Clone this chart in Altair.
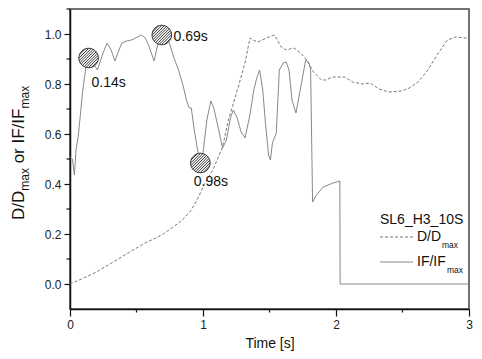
import altair as alt
import pandas as pd
import numpy as np

# ---- data ----
if_t = [0.0, 0.018, 0.033, 0.046, 0.062, 0.096, 0.125, 0.14, 0.169, 0.206, 0.243, 0.279, 0.309, 0.338,
        0.368, 0.39, 0.426, 0.463, 0.507, 0.537, 0.566, 0.596, 0.632, 0.654, 0.676, 0.691, 0.721, 0.75,
        0.779, 0.816, 0.853, 0.875, 0.897, 0.912, 0.934, 0.963, 0.978, 1.0, 1.029, 1.059, 1.081, 1.11,
        1.147, 1.176, 1.206, 1.228, 1.257, 1.287, 1.316, 1.353, 1.382, 1.404, 1.426, 1.449, 1.471, 1.493,
        1.507, 1.522, 1.551, 1.574, 1.603, 1.625, 1.647, 1.669, 1.699, 1.735, 1.772, 1.794, 1.809, 1.824,
        1.853, 1.904, 1.978, 2.029, 2.031, 3.0]
if_v = [0.508, 0.500, 0.436, 0.540, 0.590, 0.776, 0.888, 0.904, 0.888, 0.856, 0.916, 0.964, 0.936, 0.892,
        0.936, 0.964, 0.972, 0.976, 0.988, 0.996, 0.984, 0.948, 0.892, 0.944, 0.988, 0.996, 0.984, 0.96,
        0.908, 0.856, 0.788, 0.736, 0.704, 0.704, 0.616, 0.524, 0.484, 0.524, 0.656, 0.732, 0.704, 0.636,
        0.544, 0.576, 0.664, 0.696, 0.664, 0.608, 0.584, 0.676, 0.776, 0.824, 0.856, 0.776, 0.636, 0.516,
        0.496, 0.564, 0.604, 0.856, 0.884, 0.888, 0.856, 0.736, 0.684, 0.788, 0.896, 0.888, 0.86, 0.328,
        0.356, 0.388, 0.404, 0.412, 0.0, 0.0]

d_t = [0.0, 0.103, 0.199, 0.324, 0.449, 0.566, 0.691, 0.816, 0.860, 0.912, 0.963, 1.007, 1.074, 1.147,
       1.191, 1.265, 1.316, 1.353, 1.375, 1.412, 1.478, 1.537, 1.588, 1.625, 1.684, 1.735, 1.779, 1.831,
       1.89, 1.919, 1.978, 2.066, 2.125, 2.199, 2.257, 2.324, 2.397, 2.493, 2.551, 2.618, 2.691, 2.75,
       2.801, 2.838, 2.897, 2.971, 3.0]
d_v = [0.0, 0.024, 0.048, 0.088, 0.128, 0.164, 0.196, 0.244, 0.264, 0.296, 0.344, 0.396, 0.456, 0.548,
       0.656, 0.788, 0.884, 0.984, 0.976, 0.968, 0.984, 0.996, 0.948, 0.936, 0.944, 0.924, 0.896, 0.848,
       0.816, 0.816, 0.828, 0.828, 0.808, 0.8, 0.804, 0.78, 0.768, 0.772, 0.784, 0.808, 0.856, 0.908,
       0.948, 0.976, 0.988, 0.984, 0.984]

mark_t = [0.14, 0.69, 0.98]
mark_v = [0.904, 0.996, 0.484]
label_text = ["0.14s", "0.69s", "0.98s"]
label_t = [0.162, 0.779, 1.059]
label_v = [0.804, 0.988, 0.408]
label_align = ["left", "left", "center"]

x_major = [0, 1, 2, 3]
x_minor = [0.5, 1.5, 2.5]
y_major = [0.0, 0.2, 0.4, 0.6, 0.8, 1.0]
y_minor = [0.1, 0.3, 0.5, 0.7, 0.9, 1.1]

FONT = "Liberation Sans"
INK = "#111"

df_if = pd.DataFrame({"t": if_t, "v": if_v})
df_d = pd.DataFrame({"t": d_t, "v": d_v})
df_m = pd.DataFrame({"t": mark_t, "v": mark_v})
df_l = pd.DataFrame({"t": label_t, "v": label_v, "txt": label_text, "al": label_align})
df_xm = pd.DataFrame({"t": x_minor})
df_ym = pd.DataFrame({"v": y_minor})

xs = alt.Scale(domain=[0, 3], nice=False, zero=False)
ys = alt.Scale(domain=[-0.1, 1.1], nice=False, zero=False)

x_axis = alt.Axis(values=x_major, title="Time [s]", titleFontSize=14, titleFont=FONT,
                  titleFontWeight="normal", titleColor=INK, titlePadding=6,
                  format="d", labelFontSize=12, labelFont=FONT, labelColor="#222", labelPadding=3,
                  tickSize=7, tickColor=INK, tickWidth=1.2, domainColor=INK, domainWidth=1.5,
                  grid=False, labelFlush=False)
y_axis = alt.Axis(values=y_major, title=None, format=".1f",
                  labelFontSize=12, labelFont=FONT, labelColor="#222", labelPadding=3,
                  tickSize=6, tickColor=INK, tickWidth=1.2, domainColor=INK, domainWidth=1.5,
                  grid=False, labelFlush=False)

line_d = alt.Chart(df_d).mark_line(color="#777", strokeWidth=1, strokeDash=[3, 2]).encode(
    x=alt.X("t:Q", scale=xs, axis=x_axis), y=alt.Y("v:Q", scale=ys, axis=y_axis), order="t:Q")
line_if = alt.Chart(df_if).mark_line(color="#888", strokeWidth=1).encode(
    x=alt.X("t:Q", scale=xs), y=alt.Y("v:Q", scale=ys), order=alt.Order("t:Q"))

# minor ticks
xminor = alt.Chart(df_xm).mark_rule(color=INK, strokeWidth=1.2).encode(
    x=alt.X("t:Q", scale=xs), y=alt.value(300), y2=alt.value(303.5))
yminor = alt.Chart(df_ym).mark_rule(color=INK, strokeWidth=1.2).encode(
    y=alt.Y("v:Q", scale=ys), x=alt.value(-3.5), x2=alt.value(0))

# hatched circle symbol
parts = ["M-1,0A1,1 0 1,0 1,0A1,1 0 1,0 -1,0Z"]
for c in np.arange(-1.26, 1.27, 0.28):
    h = np.sqrt(max((1 - c * c / 2) / 2, 0))
    parts.append(f"M{c/2 - h:.3f},{c/2 + h:.3f}L{c/2 + h:.3f},{c/2 - h:.3f}")
hatch = "".join(parts)

markers = alt.Chart(df_m).mark_point(shape=hatch, size=380, filled=False, fill="white", fillOpacity=1,
                                     stroke="#333", strokeWidth=1, opacity=1).encode(
    x=alt.X("t:Q", scale=xs), y=alt.Y("v:Q", scale=ys))

labels_left = alt.Chart(df_l[df_l.al == "left"]).mark_text(align="left", baseline="middle", fontSize=14,
                                                            font=FONT, color=INK).encode(
    x=alt.X("t:Q", scale=xs), y=alt.Y("v:Q", scale=ys), text="txt:N")
labels_center = alt.Chart(df_l[df_l.al == "center"]).mark_text(align="center", baseline="middle", fontSize=14,
                                                                font=FONT, color=INK).encode(
    x=alt.X("t:Q", scale=xs), y=alt.Y("v:Q", scale=ys), text="txt:N")

# legend (drawn by hand so the subscripts can be shown)
anno = pd.DataFrame({"k": [0]})
def txt(s, x, y, size, align="left", angle=0):
    return alt.Chart(anno).mark_text(text=s, align=align, baseline="middle", fontSize=size, font=FONT,
                                     color=INK, angle=angle).encode(x=alt.value(x), y=alt.value(y))

PL = 62
W = 399
LX = 380 - 8 - PL
leg = [
    txt("SL6_H3_10S", LX, 211, 14),
    alt.Chart(anno).mark_rule(color="#777", strokeWidth=1, strokeDash=[3, 2]).encode(
        x=alt.value(LX), x2=alt.value(LX + 33), y=alt.value(228)),
    txt("D/D", LX + 37, 228, 14),
    txt("max", LX + 62, 236, 8.5),
    alt.Chart(anno).mark_rule(color="#888", strokeWidth=1).encode(
        x=alt.value(LX), x2=alt.value(LX + 33), y=alt.value(253)),
    txt("IF/IF", LX + 37, 253, 14),
    txt("max", LX + 67, 261, 8.5),
]

# y title with subscripts
F, f = 17, 12
y0 = 211
w_dd = 1.722 * F
w_max = 1.889 * f
w_sp = 0.278 * F
w_or = 3.223 * F
xt = 19 - 8 - PL
ytitle = [
    txt("D/D", xt, y0, F, angle=270),
    txt("max", xt + 6, y0 - w_dd, f, angle=270),
    txt("or IF/IF", xt, y0 - w_dd - w_max - w_sp, F, angle=270),
    txt("max", xt + 6, y0 - w_dd - w_max - w_sp - w_or, f, angle=270),
]

chart = alt.layer(line_d, line_if, xminor, yminor, markers, labels_left, labels_center,
                  *leg, *ytitle).properties(
    width=W, height=300,
    autosize=alt.AutoSizeParams(type="none"),
    padding={"left": PL, "top": 1, "right": 5, "bottom": 42},
).configure_view(stroke="#444", strokeWidth=1.5)

chart.save("out.html", embed_options={"renderer": "svg", "actions": False})
